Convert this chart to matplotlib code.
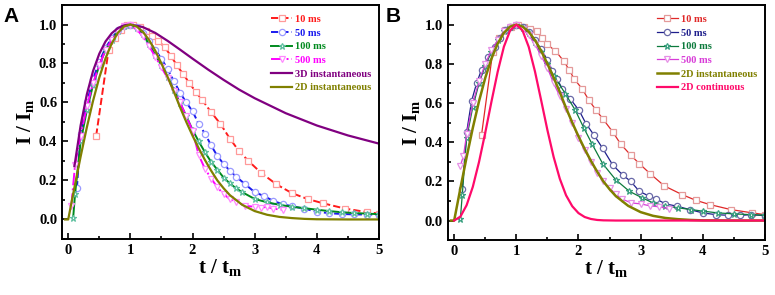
import matplotlib
matplotlib.use("Agg")
import matplotlib.pyplot as plt
from matplotlib.ticker import MultipleLocator

plt.rcParams['font.family'] = 'Liberation Serif'
plt.rcParams['font.weight'] = 'bold'
plt.rcParams['mathtext.fontset'] = 'custom'
plt.rcParams['mathtext.rm'] = 'Liberation Serif:bold'
plt.rcParams['mathtext.it'] = 'Liberation Serif:bold'
plt.rcParams['mathtext.bf'] = 'Liberation Serif:bold'

# ---------- panel A data ----------
tA_10 = [0.45, 0.65, 0.75, 0.85, 0.95, 1.05, 1.15, 1.25, 1.35, 1.45, 1.55, 1.65, 1.75, 1.85, 1.95,
         2.05, 2.15, 2.3, 2.45, 2.6, 2.75, 2.9, 3.1, 3.35, 3.6, 3.85, 4.1, 4.45, 4.8, 5.0]
IA_10 = [0.43, 0.87, 0.93, 0.97, 0.995, 1.0, 0.985, 0.965, 0.94, 0.915, 0.885, 0.84, 0.79, 0.745, 0.70,
         0.655, 0.615, 0.55, 0.49, 0.415, 0.35, 0.30, 0.24, 0.18, 0.135, 0.105, 0.083, 0.056, 0.038, 0.03]

tA_50 = [0.14, 0.2, 0.3, 0.4, 0.5, 0.6, 0.7, 0.8, 0.9, 1.0, 1.1, 1.2, 1.3, 1.4, 1.5, 1.6, 1.7, 1.8, 1.9,
         2.0, 2.1, 2.2, 2.3, 2.4, 2.5, 2.6, 2.7, 2.85, 3.0, 3.15, 3.3, 3.45, 3.6, 3.8, 4.0, 4.2, 4.4,
         4.6, 4.8, 5.0]
IA_50 = [0.16, 0.44, 0.60, 0.72, 0.81, 0.88, 0.93, 0.97, 0.99, 1.0, 0.985, 0.955, 0.915, 0.87, 0.825,
         0.77, 0.71, 0.65, 0.60, 0.555, 0.49, 0.44, 0.38, 0.325, 0.285, 0.25, 0.22, 0.18, 0.14, 0.12,
         0.095, 0.078, 0.068, 0.055, 0.04, 0.032, 0.028, 0.026, 0.025, 0.025]

tA_100 = [0.08, 0.11, 0.2, 0.3, 0.4, 0.5, 0.6, 0.7, 0.8, 0.9, 1.0, 1.1, 1.2, 1.3, 1.4, 1.5, 1.6, 1.7,
          1.8, 1.9, 2.0, 2.1, 2.2, 2.3, 2.4, 2.5, 2.6, 2.7, 2.8, 3.0, 3.2, 3.4, 3.6, 3.8, 4.0, 4.2,
          4.4, 4.6, 4.8, 5.0]
IA_100 = [0.01, 0.13, 0.40, 0.56, 0.69, 0.79, 0.87, 0.92, 0.965, 0.99, 1.0, 0.98, 0.95, 0.90, 0.845,
          0.79, 0.73, 0.665, 0.595, 0.53, 0.46, 0.40, 0.345, 0.295, 0.255, 0.215, 0.185, 0.16, 0.14,
          0.105, 0.088, 0.075, 0.065, 0.058, 0.05, 0.043, 0.037, 0.033, 0.03, 0.027]

tA_500 = [0.05, 0.11, 0.2, 0.3, 0.4, 0.5, 0.6, 0.7, 0.8, 0.9, 1.0, 1.1, 1.2, 1.3, 1.4, 1.5, 1.6, 1.7,
          1.8, 1.9, 2.0, 2.1, 2.2, 2.3, 2.4, 2.5, 2.6, 2.7, 2.85, 3.0, 3.1, 3.2, 3.3, 3.45]
IA_500 = [0.07, 0.28, 0.43, 0.58, 0.70, 0.79, 0.87, 0.92, 0.96, 0.99, 1.0, 0.975, 0.94, 0.89, 0.835,
          0.78, 0.725, 0.66, 0.60, 0.53, 0.455, 0.33, 0.26, 0.21, 0.165, 0.13, 0.105, 0.09, 0.07,
          0.065, 0.06, 0.065, 0.055, 0.05]

t_3di = [0.1, 0.2, 0.3, 0.4, 0.5, 0.6, 0.7, 0.8, 0.9, 1.0, 1.2, 1.4, 1.6, 1.8, 2.0, 2.25, 2.5, 2.75,
         3.0, 3.5, 4.0, 4.5, 5.0]
I_3di = [0.273, 0.483, 0.642, 0.762, 0.850, 0.913, 0.955, 0.982, 0.996, 1.0, 0.987, 0.957, 0.916,
         0.871, 0.825, 0.769, 0.716, 0.666, 0.622, 0.545, 0.482, 0.431, 0.389]

# 2D instantaneous (same theory curve in both panels)
t_2di = [-0.05, 0.0, 0.1, 0.2, 0.3, 0.4, 0.5, 0.6, 0.7, 0.8, 0.9, 1.0, 1.1, 1.2, 1.3, 1.4, 1.5, 1.6,
         1.7, 1.8, 1.9, 2.0, 2.1, 2.2, 2.3, 2.4, 2.5, 2.6, 2.8, 3.0, 3.2, 3.4, 3.6, 3.8, 4.0, 4.5, 5.0]
I_2di = [0.0, 0.0, 0.164, 0.323, 0.473, 0.609, 0.728, 0.826, 0.903, 0.958, 0.990, 1.0, 0.99, 0.963,
         0.921, 0.866, 0.80, 0.73, 0.655, 0.575, 0.50, 0.43, 0.365, 0.305, 0.25, 0.20, 0.16, 0.125,
         0.075, 0.043, 0.024, 0.013, 0.007, 0.003, 0.001, 0.0, 0.0]

# ---------- panel B data ----------
tB_10 = [0.44, 0.62, 0.72, 0.82, 0.92, 1.02, 1.12, 1.22, 1.33, 1.42, 1.49, 1.63, 1.76, 1.85, 1.93,
         2.06, 2.17, 2.28, 2.39, 2.55, 2.68, 2.84, 2.98, 3.15, 3.38, 3.67, 3.89, 4.12, 4.45, 4.8, 5.0]
IB_10 = [0.436, 0.86, 0.93, 0.97, 0.99, 1.0, 0.99, 0.98, 0.966, 0.93, 0.90, 0.866, 0.815, 0.77, 0.723,
         0.672, 0.613, 0.565, 0.52, 0.453, 0.39, 0.334, 0.29, 0.24, 0.177, 0.132, 0.103, 0.081, 0.056,
         0.039, 0.03]

tB_50 = [0.13, 0.2, 0.28, 0.36, 0.44, 0.55, 0.66, 0.74, 0.82, 0.9, 1.0, 1.1, 1.2, 1.3, 1.4, 1.5, 1.58,
         1.66, 1.74, 1.87, 2.01, 2.12, 2.25, 2.39, 2.55, 2.71, 2.84, 2.98, 3.14, 3.25, 3.4, 3.59, 3.8,
         4.0, 4.21, 4.4, 4.6, 4.77, 5.0]
IB_50 = [0.16, 0.45, 0.61, 0.70, 0.77, 0.835, 0.885, 0.93, 0.97, 0.99, 1.0, 0.99, 0.96, 0.92, 0.875,
         0.82, 0.765, 0.72, 0.672, 0.62, 0.562, 0.495, 0.436, 0.368, 0.284, 0.233, 0.20, 0.149, 0.124,
         0.11, 0.085, 0.073, 0.055, 0.039, 0.03, 0.027, 0.026, 0.03, 0.025]

tB_100 = [0.1, 0.13, 0.2, 0.3, 0.4, 0.5, 0.6, 0.7, 0.8, 0.9, 1.0, 1.1, 1.2, 1.3, 1.4, 1.5, 1.6, 1.79,
          1.95, 2.09, 2.22, 2.39, 2.6, 2.82, 3.03, 3.2, 3.4, 3.6, 3.81, 4.0, 4.24, 4.5, 4.78, 5.0]
IB_100 = [0.01, 0.13, 0.42, 0.58, 0.70, 0.79, 0.86, 0.92, 0.965, 0.99, 1.0, 0.985, 0.955, 0.91, 0.86,
          0.80, 0.74, 0.647, 0.562, 0.47, 0.39, 0.29, 0.208, 0.149, 0.115, 0.09, 0.075, 0.065, 0.056,
          0.048, 0.039, 0.034, 0.03, 0.027]

tB_500 = [0.1, 0.15, 0.2, 0.3, 0.4, 0.5, 0.6, 0.7, 0.8, 0.9, 1.0, 1.1, 1.2, 1.3, 1.4, 1.5, 1.6, 1.7,
          1.8, 1.9, 2.0, 2.1, 2.2, 2.3, 2.4, 2.5, 2.6, 2.7, 2.85, 3.0, 3.15, 3.3, 3.45]
IB_500 = [0.28, 0.33, 0.44, 0.60, 0.71, 0.80, 0.87, 0.92, 0.965, 0.99, 1.0, 0.98, 0.945, 0.90, 0.84,
          0.78, 0.70, 0.635, 0.57, 0.50, 0.42, 0.36, 0.30, 0.245, 0.20, 0.165, 0.135, 0.11, 0.09,
          0.085, 0.075, 0.07, 0.06]

t_2dc = [0.0, 0.1, 0.2, 0.3, 0.4, 0.5, 0.6, 0.7, 0.8, 0.9, 1.0, 1.1, 1.2, 1.3, 1.4, 1.5, 1.6, 1.7, 1.8,
         1.9, 2.0, 2.1, 2.2, 2.3, 2.4, 2.6, 3.0, 4.0, 5.0]
I_2dc = [0.0, 0.02, 0.078, 0.172, 0.299, 0.448, 0.607, 0.759, 0.887, 0.970, 1.0, 0.970, 0.886, 0.761,
         0.613, 0.462, 0.325, 0.213, 0.129, 0.073, 0.038, 0.018, 0.008, 0.003, 0.001, 0.0, 0.0, 0.0, 0.0]

fig = plt.figure(figsize=(7.75, 2.95), dpi=100)
axA = fig.add_axes([0.080, 0.190, 0.409, 0.793])
axB = fig.add_axes([0.578, 0.186, 0.409, 0.797])

ms = 4.5
mew = 0.9

# panel A
axA.plot(tA_10, IA_10, ls='--', color='#ff1a1a', lw=1.4, marker='s', ms=ms, mfc='white',
         mec='#ff9a9a', mew=mew, label='10 ms')
axA.plot(tA_50, IA_50, ls='--', color='#1a1aee', lw=1.4, marker='o', ms=ms, mfc='white',
         mec='#9a9aff', mew=mew, label='50 ms')
axA.plot(tA_100, IA_100, ls='-', color='#008a1e', lw=1.4, marker='*', ms=ms, mfc='white',
         mec='#5fc0a0', mew=mew, label='100 ms')
axA.plot(tA_500, IA_500, ls='-.', color='#ff00ff', lw=1.4, marker='v', ms=ms, mfc='white',
         mec='#ff8aff', mew=mew, label='500 ms')
axA.plot(t_3di, I_3di, color='#800080', lw=1.6, label='3D instantaneous')
axA.plot(t_2di, I_2di, color='#808000', lw=1.6, label='2D instantaneous')

# panel B
axB.plot(tB_10, IB_10, ls='-', color='#e02828', lw=0.9, marker='s', ms=ms, mfc='white',
         mec='#e49a9a', mew=mew, label='10 ms')
axB.plot(tB_50, IB_50, ls='-', color='#1e1e8c', lw=0.9, marker='o', ms=ms, mfc='white',
         mec='#6a6aa8', mew=mew, label='50 ms')
axB.plot(tB_100, IB_100, ls='-', color='#0c7a3c', lw=0.9, marker='*', ms=ms, mfc='white',
         mec='#3aa080', mew=mew, label='100 ms')
axB.plot(tB_500, IB_500, ls='-', color='#d83cd8', lw=0.9, marker='v', ms=ms, mfc='white',
         mec='#e690e6', mew=mew, label='500 ms')
axB.plot(t_2di, I_2di, color='#808000', lw=1.8, label='2D instantaneous')
axB.plot(t_2dc, I_2dc, color='#ff0a6a', lw=1.6, label='2D continuous')

for ax in (axA, axB):
    ax.set_xlim(-0.1, 5.0)
    ax.set_ylim(-0.1, 1.1)
    ax.xaxis.set_major_locator(MultipleLocator(1))
    ax.xaxis.set_minor_locator(MultipleLocator(0.5))
    ax.yaxis.set_major_locator(MultipleLocator(0.2))
    ax.yaxis.set_minor_locator(MultipleLocator(0.1))
    ax.set_yticks([0.0, 0.2, 0.4, 0.6, 0.8, 1.0])
    ax.tick_params(which='both', direction='in', top=False, right=False, width=1.2,
                   labelsize=10.5)
    ax.tick_params(which='major', length=4)
    ax.tick_params(which='minor', length=2.5)
    for s in ax.spines.values():
        s.set_linewidth(1.4)
    ax.set_xlabel(r't / t$_\mathbf{m}$', fontsize=15, fontweight='bold', labelpad=0)
    ax.set_ylabel(r'I / I$_\mathbf{m}$', fontsize=15, fontweight='bold', labelpad=2)
    ax.legend(loc='upper left', bbox_to_anchor=(0.64, 0.985), frameon=False,
              labelcolor='linecolor', prop={'family': 'Liberation Serif', 'weight': 'bold', 'size': 7.5},
              handlelength=2.0, handletextpad=0.25, labelspacing=0.42, borderaxespad=0.2)

fig.text(0.004, 0.975, 'A', fontsize=15, fontweight='bold', family='Liberation Sans', va='top')
fig.text(0.498, 0.975, 'B', fontsize=15, fontweight='bold', family='Liberation Sans', va='top')

fig.savefig('out.png', dpi=100)
